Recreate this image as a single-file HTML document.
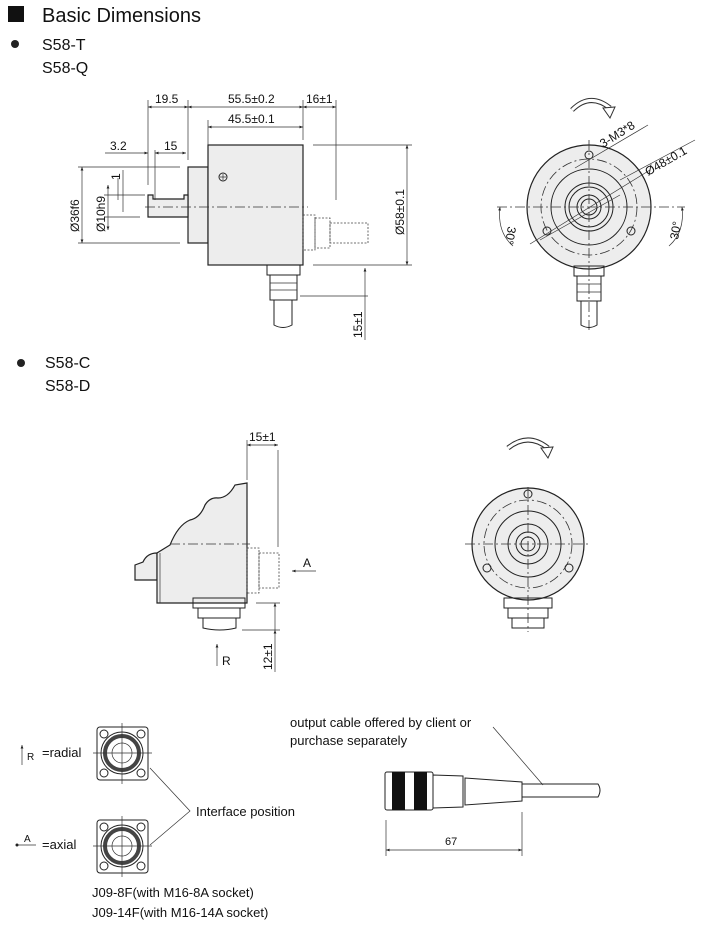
<!DOCTYPE html>
<html><head><meta charset="utf-8"><style>
html,body{margin:0;padding:0;background:#fff}
svg{display:block}
text{font-family:"Liberation Sans",Arial,sans-serif;fill:#111}
.l{stroke:#222;stroke-width:1;fill:none}
.t{stroke:#333;stroke-width:.7;fill:none}
.c{stroke:#333;stroke-width:.8;fill:none;stroke-dasharray:10 3 2 3}
.d{stroke:#444;stroke-width:.8;fill:none;stroke-dasharray:2 1.5}
.b{stroke:#222;stroke-width:1.2;fill:#ededed}
</style></head><body>
<svg width="721" height="926" viewBox="0 0 721 926" xmlns="http://www.w3.org/2000/svg">
<defs>
<marker id="a" viewBox="0 0 10 10" refX="10" refY="5" markerWidth="7" markerHeight="5" orient="auto-start-reverse"><path d="M0,1 L10,5 L0,9 z" fill="#222"/></marker>
</defs>
<!-- header -->
<rect x="8" y="6" width="16" height="16" fill="#111"/>
<text x="42" y="22" font-size="20">Basic Dimensions</text>
<circle cx="15" cy="44" r="4" fill="#222"/>
<text x="42" y="50" font-size="16">S58-T</text>
<text x="42" y="73" font-size="16">S58-Q</text>

<!-- side view 1 -->
<rect x="188" y="167" width="20" height="76" class="b"/>
<rect x="208" y="145" width="95" height="120" class="b"/>
<path d="M148,217 L148,195 L153,195 L153,199 L184,199 L184,195 L188,195 L188,217 Z" class="b"/>
<circle cx="223" cy="177" r="4" class="l"/><path d="M220,177h6M223,174v6" class="t"/>
<line x1="145" y1="207" x2="308" y2="207" class="c"/>
<rect x="303" y="215" width="12" height="35" class="d"/>
<rect x="315" y="218" width="15" height="30" class="d"/>
<rect x="330" y="223" width="38" height="20" class="d"/>
<rect x="267" y="265" width="33" height="10" class="l"/>
<rect x="270" y="275" width="27" height="25" class="l"/>
<path d="M270,283h27M270,290h27" class="t"/>
<path d="M274,300 L274,325 Q283,330 292,325 L292,300" class="l"/>
<!-- dims -->
<path d="M148,185V100M188,160V100M303,140V100M336,200V100M208,145V120M155,200V150" class="t"/>
<line x1="148" y1="107" x2="188" y2="107" class="t" marker-start="url(#a)" marker-end="url(#a)"/>
<line x1="188" y1="107" x2="303" y2="107" class="t" marker-start="url(#a)" marker-end="url(#a)"/>
<line x1="303" y1="107" x2="336" y2="107" class="t" marker-start="url(#a)" marker-end="url(#a)"/>
<line x1="208" y1="127" x2="303" y2="127" class="t" marker-start="url(#a)" marker-end="url(#a)"/>
<text x="155" y="103" font-size="12">19.5</text>
<text x="228" y="103" font-size="12">55.5±0.2</text>
<text x="306" y="103" font-size="12">16±1</text>
<text x="228" y="123" font-size="12">45.5±0.1</text>
<line x1="105" y1="153" x2="148" y2="153" class="t" marker-end="url(#a)"/>
<line x1="155" y1="153" x2="186" y2="153" class="t" marker-start="url(#a)" marker-end="url(#a)"/>
<text x="110" y="150" font-size="12">3.2</text>
<text x="164" y="150" font-size="12">15</text>
<path d="M78,167H180M78,243H180M104,195H140M104,217H140M118,178V200M120,195H145" class="t"/>
<line x1="82" y1="167" x2="82" y2="243" class="t" marker-start="url(#a)" marker-end="url(#a)"/>
<line x1="108" y1="185" x2="108" y2="230" class="t" marker-start="url(#a)" marker-end="url(#a)"/>
<line x1="123" y1="170" x2="123" y2="212" class="t"/>
<text transform="translate(79,232) rotate(-90)" font-size="12">Ø36f6</text>
<text transform="translate(105,232) rotate(-90)" font-size="12">Ø10h9</text>
<text transform="translate(120,180) rotate(-90)" font-size="12">1</text>
<path d="M313,145H412M313,265H412M300,296H368" class="t"/>
<line x1="407" y1="145" x2="407" y2="265" class="t" marker-start="url(#a)" marker-end="url(#a)"/>
<text transform="translate(404,235) rotate(-90)" font-size="12">Ø58±0.1</text>
<line x1="365" y1="268" x2="365" y2="296" class="t" marker-start="url(#a)"/>
<line x1="365" y1="296" x2="365" y2="340" class="t"/>
<text transform="translate(362,338) rotate(-90)" font-size="12">15±1</text>

<!-- front view 1 -->
<path d="M572,110 Q590,92 610,108" stroke="#333" stroke-width="5" fill="none"/>
<path d="M572,110 Q590,92 610,108" stroke="#fff" stroke-width="3" fill="none"/>
<path d="M603,108 L615,107 L610,118 Z" fill="#fff" stroke="#333"/>
<circle cx="589" cy="207" r="62" class="b" stroke-width="1.5"/>
<circle cx="589" cy="207" r="48" class="c"/>
<circle cx="589" cy="207" r="38" class="l"/>
<circle cx="589" cy="207" r="24" class="l"/>
<circle cx="589" cy="207" r="20" class="l"/>
<circle cx="589" cy="207" r="12" class="l" stroke-width="1.5"/>
<circle cx="589" cy="207" r="8" class="l"/>
<circle cx="589" cy="155" r="4" class="l"/>
<circle cx="547" cy="231" r="4" class="l"/>
<circle cx="631" cy="231" r="4" class="l"/>
<path d="M497,207H685M589,140V330" class="c"/>
<path d="M530,244L650,170M540,240L620,195" class="t"/>
<path d="M575,168 L648,125" class="t"/>
<path d="M620,180 L695,140" class="t"/>
<text transform="translate(603,148) rotate(-32)" font-size="12">3-M3*8</text>
<text transform="translate(648,176) rotate(-30)" font-size="12">Ø48±0.1</text>
<path d="M500,207 Q497,232 513,246" class="t" marker-start="url(#a)"/>
<path d="M682,207 Q685,232 669,246" class="t" marker-start="url(#a)"/>
<text transform="translate(508,226) rotate(100)" font-size="12">30°</text>
<text transform="translate(678,240) rotate(-80)" font-size="12">30°</text>
<rect x="574" y="266" width="30" height="10" class="l"/>
<rect x="577" y="276" width="24" height="25" class="l"/>
<path d="M577,284h24M577,292h24" class="t"/>
<path d="M581,301 L581,325 Q589,330 597,325 L597,301" class="l"/>

<!-- section 2 -->
<circle cx="21" cy="363" r="4" fill="#222"/>
<text x="45" y="368" font-size="16">S58-C</text>
<text x="45" y="391" font-size="16">S58-D</text>

<path d="M157,553 Q147,553 143,562 L135,565 L135,580 L157,580 Z" class="b"/>
<path d="M157,603 L157,553 L170,545 Q178,525 190,520 Q200,518 205,505 Q210,497 218,498 Q228,498 235,485 L247,483 L247,603 Z" class="b"/>
<line x1="160" y1="553" x2="160" y2="603" class="t"/>
<line x1="170" y1="544" x2="250" y2="544" class="c"/>
<rect x="247" y="548" width="12" height="45" class="d"/>
<rect x="259" y="553" width="20" height="35" class="d"/>
<rect x="193" y="598" width="52" height="10" class="l"/>
<rect x="198" y="608" width="42" height="10" class="l"/>
<path d="M203,618 L203,628 Q220,632 236,628 L236,618" class="l"/>
<path d="M247,480V440M278,450V547" class="t"/>
<line x1="247" y1="445" x2="278" y2="445" class="t" marker-start="url(#a)" marker-end="url(#a)"/>
<text x="249" y="441" font-size="12">15±1</text>
<line x1="316" y1="571" x2="292" y2="571" class="t" marker-end="url(#a)"/>
<text x="303" y="567" font-size="12">A</text>
<path d="M256,603H280M242,630H280" class="t"/>
<line x1="275" y1="603" x2="275" y2="630" class="t" marker-start="url(#a)"/>
<line x1="275" y1="630" x2="275" y2="672" class="t" marker-start="url(#a)"/>
<text transform="translate(272,670) rotate(-90)" font-size="12">12±1</text>
<line x1="217" y1="666" x2="217" y2="644" class="t" marker-end="url(#a)"/>
<text x="222" y="665" font-size="12">R</text>

<!-- front view 2 -->
<path d="M508,448 Q528,432 548,448" stroke="#333" stroke-width="5" fill="none"/>
<path d="M508,448 Q528,432 548,448" stroke="#fff" stroke-width="3" fill="none"/>
<path d="M541,448 L553,447 L548,458 Z" fill="#fff" stroke="#333"/>
<circle cx="528" cy="544" r="56" class="b" stroke-width="1.5"/>
<circle cx="528" cy="544" r="44" class="c"/>
<circle cx="528" cy="544" r="33" class="l"/>
<circle cx="528" cy="544" r="20" class="l"/>
<circle cx="528" cy="544" r="12" class="l" stroke-width="1.5"/>
<circle cx="528" cy="544" r="7" class="l"/>
<circle cx="528" cy="494" r="4" class="l"/>
<circle cx="487" cy="568" r="4" class="l"/>
<circle cx="569" cy="568" r="4" class="l"/>
<path d="M465,544H590M528,487V632" class="c"/>
<rect x="504" y="598" width="48" height="10" class="l"/>
<rect x="508" y="608" width="40" height="10" class="l"/>
<path d="M512,618 L512,628 L544,628 L544,618" class="l"/>

<!-- bottom -->
<line x1="22" y1="765" x2="22" y2="745" class="t" marker-end="url(#a)"/>
<text x="27" y="760" font-size="10">R</text>
<text x="42" y="757" font-size="13">=radial</text>
<line x1="16" y1="845" x2="36" y2="845" class="t"/>
<circle cx="17" cy="845" r="1.5" fill="#222"/>
<text x="24" y="842" font-size="10">A</text>
<text x="42" y="849" font-size="13">=axial</text>
<g>
<rect x="97" y="727" width="51" height="53" rx="3" class="l" stroke-width="1.5"/>
<circle cx="104" cy="734" r="4" class="l" stroke-width="2"/><circle cx="141" cy="734" r="4" class="l" stroke-width="2"/>
<circle cx="104" cy="773" r="4" class="l" stroke-width="2"/><circle cx="141" cy="773" r="4" class="l" stroke-width="2"/>
<circle cx="122" cy="753" r="21" class="l"/><circle cx="122" cy="753" r="17" stroke="#444" stroke-width="4" fill="none"/>
<circle cx="122" cy="753" r="10" fill="#eee" class="t"/>
<path d="M93,753H152M122,723V784" class="t"/>
</g>
<g>
<rect x="97" y="820" width="51" height="53" rx="3" class="l" stroke-width="1.5"/>
<circle cx="104" cy="827" r="4" class="l" stroke-width="2"/><circle cx="141" cy="827" r="4" class="l" stroke-width="2"/>
<circle cx="104" cy="866" r="4" class="l" stroke-width="2"/><circle cx="141" cy="866" r="4" class="l" stroke-width="2"/>
<circle cx="122" cy="846" r="21" class="l"/><circle cx="122" cy="846" r="17" stroke="#444" stroke-width="4" fill="none"/>
<circle cx="122" cy="846" r="10" fill="#eee" class="t"/>
<path d="M93,846H152M122,816V877" class="t"/>
</g>
<path d="M150,768 L190,811 L150,845" class="t"/>
<text x="196" y="816" font-size="13">Interface position</text>
<text x="92" y="897" font-size="13">J09-8F(with M16-8A socket)</text>
<text x="92" y="917" font-size="13">J09-14F(with M16-14A socket)</text>

<text x="290" y="727" font-size="13">output cable offered by client or</text>
<text x="290" y="745" font-size="13">purchase separately</text>
<line x1="493" y1="727" x2="543" y2="785" class="t"/>
<rect x="385" y="772" width="48" height="38" rx="2" class="l" fill="#fff"/>
<rect x="392" y="772" width="13" height="38" fill="#111"/>
<rect x="414" y="772" width="13" height="38" fill="#111"/>
<path d="M433,775 L463,776 L463,807 L433,808 Z" class="l"/>
<path d="M465,778 L522,782 L522,801 L465,805 Z" class="l"/>
<path d="M522,784 L598,784 Q602,790 598,797 L522,797" class="l"/>
<path d="M386,820V856M522,812V856" class="t"/>
<line x1="386" y1="850" x2="522" y2="850" class="t" marker-start="url(#a)" marker-end="url(#a)"/>
<text x="445" y="845" font-size="11">67</text>
</svg>
</body></html>
